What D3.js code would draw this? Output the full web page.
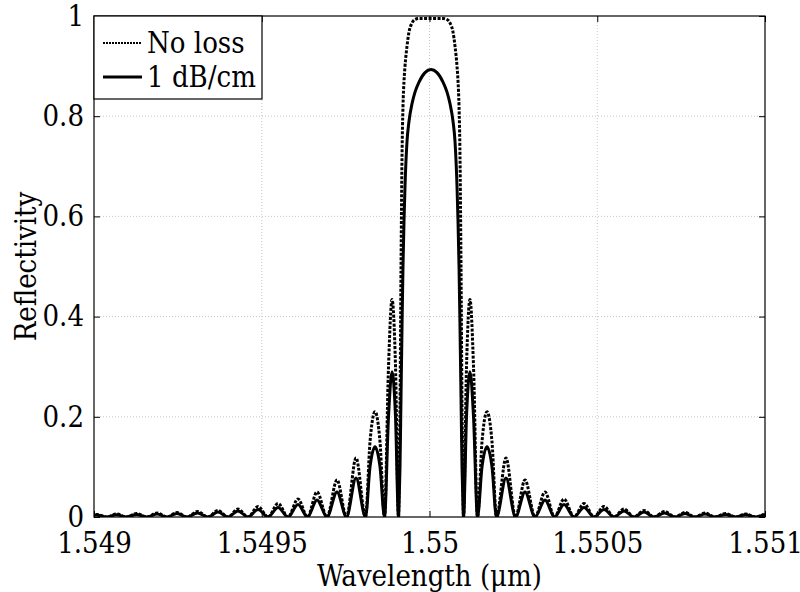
<!DOCTYPE html>
<html>
<head>
<meta charset="utf-8">
<script src="https://cdn.jsdelivr.net/npm/d3@7"></script>
<style>
  body { margin: 0; background: #fff; }
  .grid line { stroke: #c8c8c8; stroke-dasharray: 1,2; }
  .axis path { display: none; }
  .axis line { stroke: #000; }
  svg text { font-stretch: condensed; }
</style>
</head>
<body>
<svg id="chart"></svg>
<script>
var FONT = "'DejaVu Serif Condensed', 'DejaVu Serif', serif"

// wavelength samples (um)
var wavelength = [
  1.5489792, 1.5490075, 1.5490373, 1.5490671, 1.5490969, 1.5491267, 1.5491580, 1.5491878,
  1.5492176, 1.5492474, 1.5492772, 1.5493085, 1.5493398, 1.5493696, 1.5493994, 1.5494292,
  1.5494591, 1.5494889, 1.5495187, 1.5495485, 1.5495783, 1.5496081, 1.5496364, 1.5496647,
  1.5496945, 1.5497243, 1.5497526, 1.5497810, 1.5498093,
  1.5498227, 1.5498376, 1.5498525, 1.5498659, 1.5498778, 1.5498883, 1.5498987, 1.5499076,
  1.5499091, 1.5499121, 1.5499151, 1.5499181, 1.5499210, 1.5499240, 1.5499270, 1.5499330,
  1.5499389, 1.5499479, 1.5499568, 1.5499687, 1.5499866, 1.5500045,
  1.5500224, 1.5500403, 1.5500522, 1.5500611, 1.5500701, 1.5500760, 1.5500820, 1.5500850,
  1.5500880, 1.5500909, 1.5500939, 1.5500969, 1.5500999,
  1.5501014, 1.5501103, 1.5501207, 1.5501312, 1.5501431, 1.5501565, 1.5501714, 1.5501863,
  1.5501997, 1.5502280, 1.5502564, 1.5502847, 1.5503145, 1.5503443, 1.5503726, 1.5504009,
  1.5504307, 1.5504605, 1.5504903, 1.5505201, 1.5505499, 1.5505798, 1.5506096, 1.5506394,
  1.5506692, 1.5507005, 1.5507318, 1.5507616, 1.5507914, 1.5508212, 1.5508510, 1.5508823,
  1.5509121, 1.5509419, 1.5509717, 1.5510015, 1.5510298
]

// reflectivity, lossless grating
var noLoss = [
  0, 0.005, 0, 0.006, 0, 0.007, 0, 0.008, 0, 0.009, 0, 0.011, 0, 0.013, 0, 0.016,
  0, 0.021, 0, 0.027, 0, 0.036, 0, 0.05, 0, 0.074, 0, 0.118, 0,
  0.15, 0.21, 0.15, 0, 0.3, 0.434, 0.3, 0,
  0.05, 0.22, 0.5, 0.72, 0.82, 0.87, 0.9, 0.94, 0.968, 0.986, 0.993, 0.995, 0.995, 0.995,
  0.995, 0.995, 0.993, 0.986, 0.968, 0.94, 0.9, 0.87, 0.82, 0.72, 0.5, 0.22, 0.05,
  0, 0.3, 0.434, 0.3, 0, 0.15, 0.21, 0.15,
  0, 0.118, 0, 0.074, 0, 0.05, 0, 0.036, 0, 0.027, 0, 0.021, 0, 0.016, 0, 0.013,
  0, 0.011, 0, 0.009, 0, 0.008, 0, 0.007, 0, 0.006, 0, 0.005, 0
]

// reflectivity, 1 dB/cm loss
var withLoss = [
  0, 0.004, 0, 0.0045, 0, 0.005, 0, 0.006, 0, 0.007, 0, 0.008, 0, 0.01, 0, 0.012,
  0, 0.015, 0, 0.019, 0, 0.025, 0, 0.034, 0, 0.05, 0, 0.078, 0,
  0.1, 0.14, 0.1, 0, 0.2, 0.29, 0.2, 0,
  0.02, 0.10, 0.24, 0.38, 0.50, 0.59, 0.66, 0.75, 0.79, 0.825, 0.848, 0.868, 0.887, 0.893,
  0.887, 0.868, 0.848, 0.825, 0.79, 0.75, 0.66, 0.59, 0.50, 0.38, 0.24, 0.10, 0.02,
  0, 0.2, 0.29, 0.2, 0, 0.1, 0.14, 0.1,
  0, 0.078, 0, 0.05, 0, 0.034, 0, 0.025, 0, 0.019, 0, 0.015, 0, 0.012, 0, 0.01,
  0, 0.008, 0, 0.007, 0, 0.006, 0, 0.005, 0, 0.0045, 0, 0.004, 0
]

var xTicks = [1.549, 1.5495, 1.55, 1.5505, 1.551]
var xTickLabels = ['1.549', '1.5495', '1.55', '1.5505', '1.551']
var yTicks = [0, 0.2, 0.4, 0.6, 0.8, 1]
var yTickLabels = ['0', '0.2', '0.4', '0.6', '0.8', '1']
var seriesNames = ['No loss', '1 dB/cm']

var margin = {top: 16, right: 35, bottom: 75, left: 94},
    width = 800 - margin.left - margin.right,
    height = 592 - margin.top - margin.bottom

var x = d3.scaleLinear().domain([1.549, 1.551]).range([0, width])
var y = d3.scaleLinear().domain([0, 1]).range([height, 0])

var svg = d3.select('#chart')
    .attr('width', 800)
    .attr('height', 592)
  .append('g')
    .attr('transform', 'translate(' + margin.left + ',' + margin.top + ')')

// grid
svg.append('g').attr('class', 'grid')
  .selectAll('line').data(xTicks.slice(1, -1)).enter().append('line')
    .attr('x1', d => x(d)).attr('x2', d => x(d))
    .attr('y1', 0).attr('y2', height)
svg.append('g').attr('class', 'grid')
  .selectAll('line').data(yTicks.slice(1, -1)).enter().append('line')
    .attr('x1', 0).attr('x2', width)
    .attr('y1', d => y(d)).attr('y2', d => y(d))

// axes, ticks pointing inward
svg.append('g').attr('class', 'axis')
    .attr('transform', 'translate(0,' + height + ')')
    .call(d3.axisBottom(x).tickValues(xTicks).tickSizeInner(-6).tickSizeOuter(0).tickPadding(15)
      .tickFormat((d, i) => xTickLabels[i]))
svg.append('g').attr('class', 'axis')
    .call(d3.axisTop(x).tickValues(xTicks).tickSizeInner(-6).tickSizeOuter(0).tickFormat(''))
svg.append('g').attr('class', 'axis')
    .call(d3.axisLeft(y).tickValues(yTicks).tickSizeInner(-6).tickSizeOuter(0).tickPadding(10)
      .tickFormat((d, i) => yTickLabels[i]))
svg.append('g').attr('class', 'axis')
    .attr('transform', 'translate(' + width + ',0)')
    .call(d3.axisRight(y).tickValues(yTicks).tickSizeInner(-6).tickSizeOuter(0).tickFormat(''))

svg.selectAll('.axis')
    .attr('font-family', FONT)
    .attr('font-size', 29)
svg.selectAll('.axis text').attr('fill', '#000')

// curves
svg.append('clipPath').attr('id', 'clip')
  .append('rect').attr('width', width).attr('height', height)

var pts = wavelength.map((w, i) => ({w: w, a: noLoss[i], b: withLoss[i]}))
var lineA = d3.line().x(d => x(d.w)).y(d => y(d.a)).curve(d3.curveMonotoneX)
var lineB = d3.line().x(d => x(d.w)).y(d => y(d.b)).curve(d3.curveMonotoneX)

var plot = svg.append('g').attr('clip-path', 'url(#clip)')
plot.append('path')
    .datum(pts)
    .attr('d', lineB)
    .attr('fill', 'none')
    .attr('stroke', '#000')
    .attr('stroke-width', 3)
plot.append('path')
    .datum(pts)
    .attr('d', lineA)
    .attr('fill', 'none')
    .attr('stroke', '#000')
    .attr('stroke-width', 3)
    .attr('stroke-dasharray', '3,1.5')

// frame
svg.append('rect')
    .attr('width', width).attr('height', height)
    .attr('fill', 'none').attr('stroke', '#000').attr('stroke-width', 1.2)

// legend
var legend = svg.append('g')
legend.append('rect')
    .attr('x', 0).attr('y', 0).attr('width', 168).attr('height', 83)
    .attr('fill', '#fff').attr('stroke', '#000').attr('stroke-width', 1.2)
legend.selectAll('.lg-line')
    .data(seriesNames)
  .enter().append('line')
    .attr('x1', 9).attr('x2', 48)
    .attr('y1', (d, i) => 27 + i * 34).attr('y2', (d, i) => 27 + i * 34)
    .attr('stroke', '#000')
    .attr('stroke-width', (d, i) => i === 0 ? 2 : 3)
    .attr('stroke-dasharray', (d, i) => i === 0 ? '2,1' : null)
legend.selectAll('.lg-text')
    .data(seriesNames)
  .enter().append('text')
    .attr('x', 53)
    .attr('y', (d, i) => 37 + i * 34)
    .attr('font-family', FONT)
    .attr('font-size', 29)
    .text(d => d)

// axis titles
svg.append('text')
    .attr('x', width / 2).attr('y', height + 69)
    .attr('text-anchor', 'middle')
    .attr('font-family', FONT)
    .attr('font-size', 29)
    .text('Wavelength (μm)')
svg.append('text')
    .attr('transform', 'translate(-58,' + (height / 2) + ') rotate(-90)')
    .attr('text-anchor', 'middle')
    .attr('font-family', FONT)
    .attr('font-size', 29)
    .text('Reflectivity')
</script>
</body>
</html>
